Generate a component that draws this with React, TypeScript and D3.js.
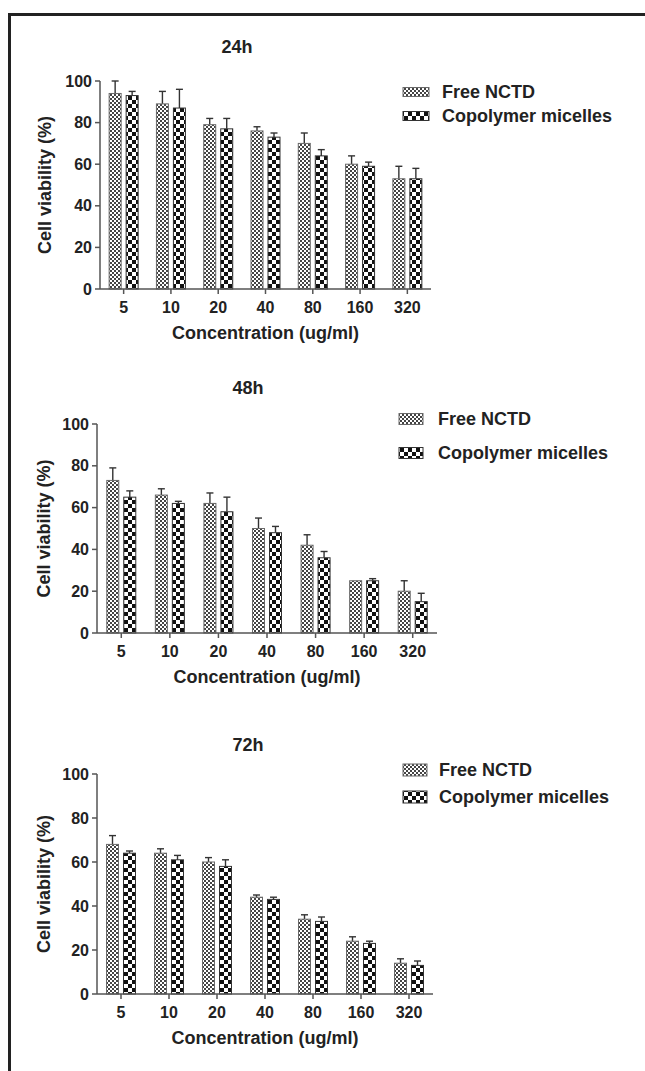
import React from "react";
import * as d3 from "d3";

const categories = ["5", "10", "20", "40", "80", "160", "320"];
const seriesNames = ["Free NCTD", "Copolymer micelles"];
const yTicks = [0, 20, 40, 60, 80, 100];

const free24 = [94, 89, 79, 76, 70, 60, 53];
const free24Err = [6, 6, 3, 2, 5, 4, 6];
const copo24 = [93, 87, 77, 73, 64, 59, 53];
const copo24Err = [2, 9, 5, 2, 3, 2, 5];

const free48 = [73, 66, 62, 50, 42, 25, 20];
const free48Err = [6, 3, 5, 5, 5, 0, 5];
const copo48 = [65, 62, 58, 48, 36, 25, 15];
const copo48Err = [3, 1, 7, 3, 3, 1, 4];

const free72 = [68, 64, 60, 44, 34, 24, 14];
const free72Err = [4, 2, 2, 1, 2, 2, 2];
const copo72 = [64, 61, 58, 43, 33, 23, 13];
const copo72Err = [1, 2, 3, 1, 2, 1, 2];

const FONT = "'Liberation Sans', Arial, Helvetica, sans-serif";

type Panel = {
  title: string;
  titleX: number;
  titleY: number;
  x0: number;
  x1: number;
  yTop: number;
  yBottom: number;
  labelX: number;
  legendSwX: number;
  legendSwW: number;
  legendSwH: number;
  legendTextX: number;
  legendY: number[];
  values: number[][];
  errs: number[][];
};

const panels: Panel[] = [
  {
    title: "24h", titleX: 237, titleY: 47,
    x0: 100, x1: 431, yTop: 81, yBottom: 289, labelX: 45,
    legendSwX: 403, legendSwW: 26, legendSwH: 9, legendTextX: 442,
    legendY: [92, 116],
    values: [free24, copo24], errs: [free24Err, copo24Err],
  },
  {
    title: "48h", titleX: 248, titleY: 388,
    x0: 97, x1: 437, yTop: 424, yBottom: 633, labelX: 44,
    legendSwX: 399, legendSwW: 24, legendSwH: 11, legendTextX: 438,
    legendY: [419, 453],
    values: [free48, copo48], errs: [free48Err, copo48Err],
  },
  {
    title: "72h", titleX: 248, titleY: 745,
    x0: 97, x1: 433, yTop: 774, yBottom: 994, labelX: 44,
    legendSwX: 403, legendSwW: 24, legendSwH: 12, legendTextX: 439,
    legendY: [770, 797],
    values: [free72, copo72], errs: [free72Err, copo72Err],
  },
];

const patternIds = ["pFree", "pCopo"];
const barStroke = ["#6a6a6a", "#333"];

function ChartPanel({ p }: { p: Panel }) {
  const x = d3.scaleBand<string>().domain(categories).range([p.x0, p.x1]).paddingInner(0).paddingOuter(0);
  const xs = d3.scaleBand<string>().domain(seriesNames).range([-14.5, 14.5]).paddingInner(5 / 17);
  const y = d3.scaleLinear().domain([0, 100]).range([p.yBottom, p.yTop]);
  const axisColor = "#555";
  return (
    <g>
      <text x={p.titleX} y={p.titleY} textAnchor="middle" dominantBaseline="central"
        fontFamily={FONT} fontWeight="bold" fontSize={18} fill="#222">{p.title}</text>
      {/* bars */}
      {categories.map((c, i) => (
        <g key={c}>
          {seriesNames.map((s, si) => {
            const v = p.values[si][i];
            const e = p.errs[si][i];
            const bx = (x(c) as number) + x.bandwidth() / 2 + (xs(s) as number);
            const bw = xs.bandwidth();
            const cx = bx + bw / 2;
            return (
              <g key={s}>
                {e > 0 && (
                  <g stroke="#333" strokeWidth={1.4}>
                    <line x1={cx} x2={cx} y1={y(v)} y2={y(v + e)} />
                    <line x1={cx - 3.5} x2={cx + 3.5} y1={y(v + e)} y2={y(v + e)} />
                  </g>
                )}
                <rect x={bx} y={y(v)} width={bw} height={y(0) - y(v)}
                  fill={`url(#${patternIds[si]})`} stroke={barStroke[si]} strokeWidth={1} />
              </g>
            );
          })}
        </g>
      ))}
      {/* y axis */}
      <line x1={p.x0} x2={p.x0} y1={y(100)} y2={y(0)} stroke={axisColor} strokeWidth={1.5} />
      {yTicks.map((t) => (
        <g key={t}>
          <line x1={p.x0 - 5} x2={p.x0} y1={y(t)} y2={y(t)} stroke={axisColor} strokeWidth={1.5} />
          <text x={p.x0 - 8} y={y(t)} textAnchor="end" dominantBaseline="central"
            fontFamily={FONT} fontWeight="bold" fontSize={16} fill="#222">{t}</text>
        </g>
      ))}
      {/* x axis */}
      <line x1={p.x0} x2={p.x1} y1={y(0)} y2={y(0)} stroke={axisColor} strokeWidth={1.5} />
      {categories.map((c) => {
        const cx = (x(c) as number) + x.bandwidth() / 2;
        return (
          <g key={c}>
            <line x1={cx} x2={cx} y1={y(0)} y2={y(0) + 5} stroke={axisColor} strokeWidth={1.5} />
            <text x={cx} y={y(0) + 18} textAnchor="middle" dominantBaseline="central"
              fontFamily={FONT} fontWeight="bold" fontSize={16} fill="#222">{c}</text>
          </g>
        );
      })}
      <text x={(p.x0 + p.x1) / 2} y={y(0) + 44} textAnchor="middle" dominantBaseline="central"
        fontFamily={FONT} fontWeight="bold" fontSize={18} fill="#222">Concentration (ug/ml)</text>
      <text transform={`translate(${p.labelX},${(p.yTop + p.yBottom) / 2}) rotate(-90)`}
        textAnchor="middle" dominantBaseline="central"
        fontFamily={FONT} fontWeight="bold" fontSize={18} fill="#222">Cell viability (%)</text>
      {/* legend */}
      {seriesNames.map((s, si) => (
        <g key={s}>
          <rect x={p.legendSwX} y={p.legendY[si] - p.legendSwH / 2} width={p.legendSwW} height={p.legendSwH}
            fill={`url(#${patternIds[si]})`} stroke={barStroke[si]} strokeWidth={1} />
          <text x={p.legendTextX} y={p.legendY[si]} dominantBaseline="central"
            fontFamily={FONT} fontWeight="bold" fontSize={18} fill="#222">{s}</text>
        </g>
      ))}
    </g>
  );
}

export default function App() {
  return (
    <svg width={645} height={1071} style={{ position: "absolute", left: 0, top: 0, background: "#fff" }}>
      <defs>
        <pattern id="pFree" width={4} height={4} patternUnits="userSpaceOnUse">
          <rect width={4} height={4} fill="#fff" />
          <rect width={2} height={2} fill="#444" />
          <rect x={2} y={2} width={2} height={2} fill="#444" />
        </pattern>
        <pattern id="pCopo" width={8} height={8} patternUnits="userSpaceOnUse">
          <rect width={8} height={8} fill="#fff" />
          <rect width={4} height={4} fill="#111" />
          <rect x={4} y={4} width={4} height={4} fill="#111" />
        </pattern>
      </defs>
      <rect width={645} height={1071} fill="#fff" />
      <path d="M9.5,1071 L9.5,14.5 L645,14.5" fill="none" stroke="#222" strokeWidth={3} />
      {panels.map((p) => (
        <ChartPanel key={p.title} p={p} />
      ))}
    </svg>
  );
}
